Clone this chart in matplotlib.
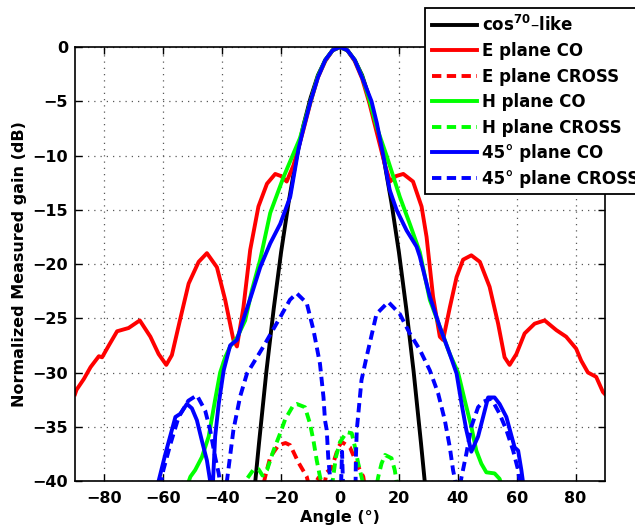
import matplotlib.pyplot as plt

# cos^70-like reference
black_ang = [-30, -28.8, -27.5, -25, -22.5, -20, -17.5, -15, -12.5, -10, -7.5, -5, -2.5, 0,
             2.5, 5, 7.5, 10, 12.5, 15, 17.5, 20, 22.5, 25, 27.5, 28.8, 30]
black_db = [-43.7, -40.1, -36.5, -29.9, -24.1, -18.9, -14.4, -10.5, -7.3, -4.7, -2.6, -1.2, -0.3, 0,
            -0.3, -1.2, -2.6, -4.7, -7.3, -10.5, -14.4, -18.9, -24.1, -29.9, -36.5, -40.1, -43.7]

# E plane CO
e_co_ang = [-90, -89.5, -87, -84.7, -81.9, -80.8, -78.5, -75.7, -71.8, -68, -64.4, -61.6, -59, -57.1,
            -54.2, -51.4, -48, -45.2, -41.8, -39, -36.2, -35, -33.9, -32.8, -30.5, -27.7, -24.8, -22,
            -20, -18.1, -15.8, -12.5, -10, -7.5, -5, -2.5, 0, 2.5, 5, 7.5, 10, 12.5, 15.3, 17, 19,
            21.5, 24.8, 27.7, 29.4, 31.6, 33.9, 35, 37.3, 39.6, 41.8, 44.6, 47.5, 50.8, 53.7, 55.9,
            57.6, 59.9, 62.7, 66.1, 69.5, 73.5, 76.8, 80.2, 81.9, 84.2, 87, 89.3, 90]
e_co_db = [-32.0, -31.6, -30.6, -29.5, -28.5, -28.6, -27.5, -26.2, -25.9, -25.2, -26.7, -28.3, -29.3, -28.4,
           -25.0, -21.8, -19.8, -19.0, -20.3, -23.3, -27.0, -27.6, -25.8, -24.0, -18.7, -14.7, -12.6, -11.7,
           -11.9, -12.4, -10.9, -7.7, -5.1, -2.8, -1.3, -0.3, 0, -0.3, -1.3, -2.9, -5.2, -7.9, -10.9, -12.4, -11.9,
           -11.7, -12.4, -14.7, -17.5, -23.0, -26.7, -27.0, -24.0, -21.2, -19.6, -19.2, -19.8, -22.1, -25.5, -28.6,
           -29.3, -28.3, -26.4, -25.5, -25.2, -26.1, -26.7, -27.8, -28.9, -30.0, -30.4, -31.8, -32.0]

# E plane CROSS
e_x_ang = [-27, -25.4, -23.7, -20.9, -18.5, -16.9, -14.1, -11.3, -10, -7.3, -5.5, -4.5, -2.8, -0.6,
           0.6, 3.4, 5.7, 7.9, 9]
e_x_db = [-41.5, -39.6, -37.8, -36.7, -36.5, -36.7, -38.3, -39.6, -41, -39.7, -40.6, -39.2, -38.8, -36.9,
          -36.4, -36.9, -38.4, -39.6, -41.5]

# H plane CO
h_co_ang = [-52, -50.8, -49.2, -46.9, -44.6, -42.4, -40.7, -39, -37.3, -35, -32.2, -29.9, -27.1, -23.7,
            -19.2, -13.6, -10, -7.5, -5, -2.5, 0, 2.5, 5, 7.5, 10, 12.5, 15.8, 20.3, 23.7, 27.1, 30.5,
            33.9, 37.3, 40.1, 42.4, 44.6, 46.3, 48, 49.7, 52.5, 54.2, 55]
h_co_db = [-40.5, -39.6, -39.0, -37.8, -35.9, -32.5, -30.0, -28.6, -27.6, -26.8, -25.2, -22.4, -19.6, -15.3,
           -12.0, -8.4, -5.0, -2.7, -1.2, -0.3, 0, -0.3, -1.2, -2.7, -4.9, -7.4, -10.0, -13.8, -16.3, -18.9, -23.3,
           -25.8, -28.3, -30.0, -32.6, -35.0, -37.2, -38.4, -39.2, -39.3, -39.8, -40.5]

# H plane CROSS
h_x_ang = [-33, -31.6, -29.5, -27.7, -26.3, -24.8, -22.6, -20.3, -18.6, -15.8, -14.7, -11.9, -10.2, -9,
           -7.9, -6.8, -5.5, -2.5, -1.4, 0, 2.3, 4, 5.1, 6.2, 7.3, 9, 12, 13, 14.1, 15.3, 17.5, 18.6,
           19.2, 20]
h_x_db = [-41, -39.8, -39.0, -38.9, -39.5, -39.0, -37.2, -35.6, -34.3, -33.0, -32.9, -33.2, -34.7, -36.3,
          -38.1, -39.6, -41, -40, -37.8, -36.4, -35.5, -35.6, -36.9, -38.4, -39.6, -41.5, -41, -39.6, -38.4,
          -37.6, -37.9, -39, -40, -41]

# 45 deg plane CO
d_co_ang = [-62, -61.6, -59.3, -55.9, -54.2, -52, -50.3, -48.6, -46.9, -45.2, -44.1, -43.3, -42.4, -41.2,
            -39.5, -37.3, -35, -32.2, -29.9, -27.1, -23.7, -20.3, -16.9, -14.1, -12.5, -10, -7.5, -5,
            -2.5, 0, 2.5, 5, 7.5, 10.7, 12.5, 14.7, 16.9, 19.2, 22.6, 26, 27.1, 30.5, 33.9, 37.3, 39.6,
            41.3, 42.9, 44.6, 46.9, 48.6, 50.3, 52.5, 54.2, 56.5, 59.3, 60.5, 61.6, 62.1, 62.5]
d_co_db = [-40.5, -40, -37.5, -34.1, -33.8, -32.9, -33.3, -34.4, -36.3, -38.1, -40, -41, -35.9, -32.9,
           -29.8, -27.5, -27.0, -24.6, -22.7, -20.3, -18.1, -16.3, -13.8, -9.4, -7.6, -5.0, -2.8, -1.2,
           -0.3, 0, -0.3, -1.2, -2.8, -5.0, -7.0, -10.0, -13.2, -15.0, -16.9, -18.4, -19.3, -23.0, -25.8, -28.3, -30.1,
           -32.9, -35.3, -37.3, -35.9, -34.1, -32.3, -32.3, -32.9, -34.1, -36.9, -37.2, -39, -40, -41]

# 45 deg plane CROSS
d_x_ang = [-61, -60, -57.6, -54.8, -51.5, -48.6, -45.8, -44.1, -42.4, -41.2, -40, -38.4, -36.2, -33.9,
           -31.6, -28, -26, -20.3, -17, -14.7, -11.3, -9, -6.8, -5.6, -5.1, -4.5, -4.0, -3.4, -2,
           0.3, 0.7, 1.1, 4.5, 5.3, 5.4, 5.7, 7.3, 9, 12.4, 16.4, 20.3, 23.7, 27.1, 30.5, 33.3, 35.6,
           37.3, 38.4, 39, 40, 41.3, 42.9, 44.6, 46.9, 48.6, 51.4, 54.2, 56.5, 58.8, 60.5, 61, 61.5]
d_x_db = [-40.5, -39, -36.6, -34.1, -32.6, -32.1, -33.5, -35.3, -37.8, -39.3, -41.5, -40, -35.3, -32.2,
          -30.1, -28.5, -27.6, -24.9, -23.3, -22.7, -23.6, -26.1, -29.2, -32.3, -34.4, -35.3, -37.8, -39.6, -42,
          -41, -37.3, -41, -42, -40, -37.8, -35.3, -30.7, -28.6, -24.6, -23.5, -24.6, -26.4, -27.9, -29.8, -31.9, -34.4,
          -36.9, -39, -39.8, -41.5, -39.6, -37.5, -35, -33.2, -32.7, -32.4, -33.8, -35.3, -37.2, -39, -40, -41]

plt.figure(figsize=(6.35, 5.29), dpi=100)
ax = plt.axes([75 / 635, 1 - 481 / 529, 530 / 635, 434 / 529])

lw = 2.8
dash = (2.4, 1.4)
plt.plot(black_ang, black_db, color="black", linewidth=lw, label="cos$^{\\mathbf{70}}$\u2013like")
plt.plot(e_co_ang, e_co_db, color="red", linewidth=lw, label="E plane CO")
plt.plot(e_x_ang, e_x_db, color="red", linewidth=lw, linestyle="--", dashes=dash, label="E plane CROSS")
plt.plot(h_co_ang, h_co_db, color="#00ff00", linewidth=lw, label="H plane CO")
plt.plot(h_x_ang, h_x_db, color="#00ff00", linewidth=lw, linestyle="--", dashes=dash, label="H plane CROSS")
plt.plot(d_co_ang, d_co_db, color="blue", linewidth=lw, label="45\u00b0 plane CO")
plt.plot(d_x_ang, d_x_db, color="blue", linewidth=lw, linestyle="--", dashes=dash, label="45\u00b0 plane CROSS")

plt.xlim(-90, 90)
plt.ylim(-40, 0)
plt.xticks(range(-80, 81, 20))
plt.yticks(range(-40, 1, 5))
plt.grid(True, color="0.35", linestyle=(0, (1, 4)), linewidth=0.9)
ax.tick_params(direction="in", top=True, right=True, length=5, width=1, labelsize=11.5)
ax.tick_params(axis="x", pad=7)
ax.tick_params(axis="y", pad=5)
for lbl in ax.get_xticklabels() + ax.get_yticklabels():
    lbl.set_fontweight("bold")
for s in ax.spines.values():
    s.set_linewidth(1.2)

plt.xlabel("Angle (\u00b0)", fontsize=11.5, fontweight="bold", labelpad=3)
plt.ylabel("Normalized Measured gain (dB)", fontsize=11.5, fontweight="bold", labelpad=4)

leg = plt.legend(loc="upper left", bbox_to_anchor=(425 / 635, 1 - 8 / 529),
                 bbox_transform=plt.gcf().transFigure, borderaxespad=0,
                 prop={"weight": "bold", "size": 12}, frameon=True, fancybox=False,
                 framealpha=1, edgecolor="black", handlelength=2.7, handletextpad=0.35,
                 labelspacing=0.45, borderpad=0.4)
leg.get_frame().set_linewidth(1.3)

plt.savefig("out.png", dpi=100)
